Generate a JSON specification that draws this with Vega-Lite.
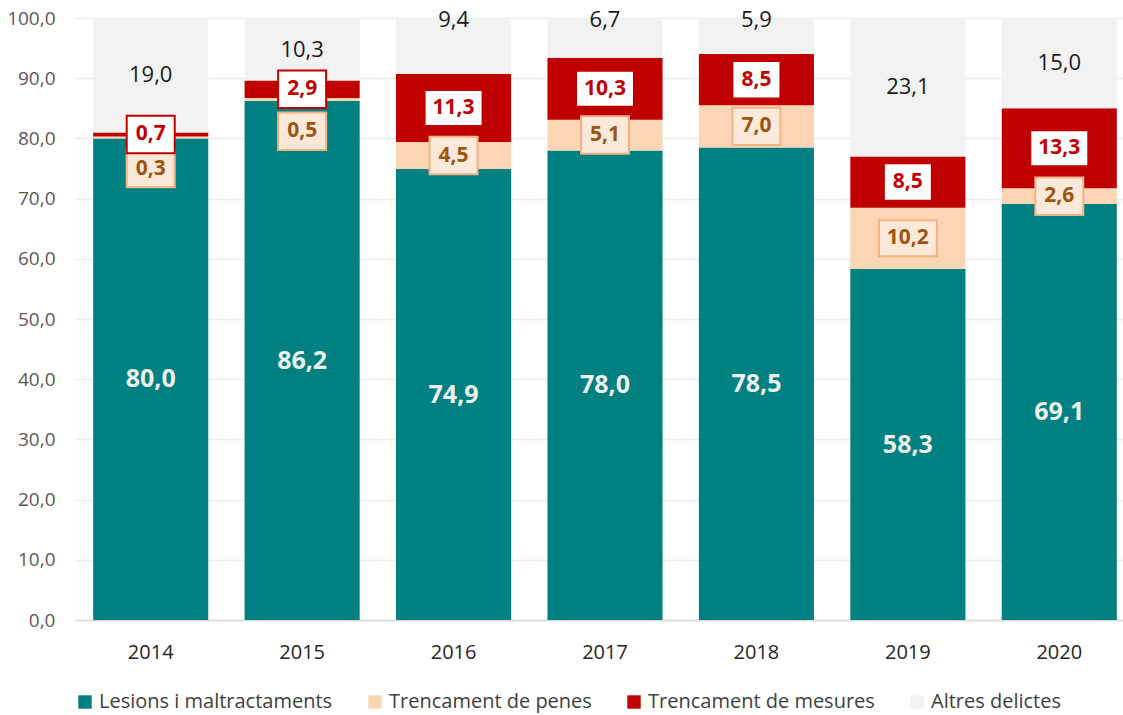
{
  "$schema": "https://vega.github.io/schema/vega-lite/v6.json",
  "width": 1060,
  "height": 602,
  "autosize": "none",
  "padding": {"left": 75, "top": 18, "right": 0, "bottom": 95},
  "background": "white",
  "config": {
    "font": "Open Sans",
    "view": {"stroke": null},
    "axis": {"ticks": false, "labelFont": "Open Sans"},
    "legend": {"labelFont": "Open Sans"}
  },
  "data": {
    "values": [
      {"year": "2014", "cat": "Lesions i maltractaments", "v": 80.0},
      {"year": "2014", "cat": "Trencament de penes", "v": 0.3},
      {"year": "2014", "cat": "Trencament de mesures", "v": 0.7},
      {"year": "2014", "cat": "Altres delictes", "v": 19.0},
      {"year": "2015", "cat": "Lesions i maltractaments", "v": 86.2},
      {"year": "2015", "cat": "Trencament de penes", "v": 0.5},
      {"year": "2015", "cat": "Trencament de mesures", "v": 2.9},
      {"year": "2015", "cat": "Altres delictes", "v": 10.3},
      {"year": "2016", "cat": "Lesions i maltractaments", "v": 74.9},
      {"year": "2016", "cat": "Trencament de penes", "v": 4.5},
      {"year": "2016", "cat": "Trencament de mesures", "v": 11.3},
      {"year": "2016", "cat": "Altres delictes", "v": 9.4},
      {"year": "2017", "cat": "Lesions i maltractaments", "v": 78.0},
      {"year": "2017", "cat": "Trencament de penes", "v": 5.1},
      {"year": "2017", "cat": "Trencament de mesures", "v": 10.3},
      {"year": "2017", "cat": "Altres delictes", "v": 6.7},
      {"year": "2018", "cat": "Lesions i maltractaments", "v": 78.5},
      {"year": "2018", "cat": "Trencament de penes", "v": 7.0},
      {"year": "2018", "cat": "Trencament de mesures", "v": 8.5},
      {"year": "2018", "cat": "Altres delictes", "v": 5.9},
      {"year": "2019", "cat": "Lesions i maltractaments", "v": 58.3},
      {"year": "2019", "cat": "Trencament de penes", "v": 10.2},
      {"year": "2019", "cat": "Trencament de mesures", "v": 8.5},
      {"year": "2019", "cat": "Altres delictes", "v": 23.1},
      {"year": "2020", "cat": "Lesions i maltractaments", "v": 69.1},
      {"year": "2020", "cat": "Trencament de penes", "v": 2.6},
      {"year": "2020", "cat": "Trencament de mesures", "v": 13.3},
      {"year": "2020", "cat": "Altres delictes", "v": 15.0}
    ]
  },
  "transform": [
    {"calculate": "indexof(['Lesions i maltractaments','Trencament de penes','Trencament de mesures','Altres delictes'], datum.cat)", "as": "k"},
    {"stack": "v", "groupby": ["year"], "sort": [{"field": "k"}], "as": ["v0", "v1"]},
    {"calculate": "replace(format(datum.v, '.1f'), '.', ',')", "as": "lab"},
    {"calculate": "datum.k == 1 && datum.v < 1 ? datum.v0 - 5 : (datum.k == 3 && datum.v < 10 ? 99.6 : (datum.v0 + datum.v1) / 2)", "as": "ly"},
    {"calculate": "length(datum.lab) > 3 ? 'M-1,-0.62H1V0.62H-1Z' : 'M-1,-0.78H1V0.78H-1Z'", "as": "boxShape"},
    {"calculate": "length(datum.lab) > 3 ? 3364 : 2304", "as": "boxSize"}
  ],
  "encoding": {
    "x": {
      "field": "year", "type": "nominal",
      "scale": {"paddingInner": 0.24, "paddingOuter": 0.12},
      "axis": {"title": null, "labelAngle": 0, "labelFontSize": 20, "labelColor": "#262626", "labelPadding": 22, "domainColor": "#d9d9d9", "domainWidth": 1.5, "grid": false}
    }
  },
  "layer": [
    {
      "mark": {"type": "bar"},
      "encoding": {
        "y": {
          "field": "v1", "type": "quantitative",
          "scale": {"domain": [0, 100], "nice": false},
          "axis": {"title": null, "values": [0,10,20,30,40,50,60,70,80,90,100], "labelOverlap": false, "labelExpr": "replace(format(datum.value, '.1f'), '.', ',')", "labelFontSize": 19, "labelColor": "#595959", "labelPadding": 20, "domain": false, "grid": true, "gridColor": "#ececec", "gridWidth": 1.5}
        },
        "y2": {"field": "v0"},
        "color": {
          "field": "cat", "type": "nominal",
          "scale": {"domain": ["Lesions i maltractaments", "Trencament de penes", "Trencament de mesures", "Altres delictes"], "range": ["#008080", "#fcd5b4", "#c00000", "#f2f2f2"]},
          "legend": {"title": null, "orient": "bottom", "direction": "horizontal", "symbolType": "square", "symbolSize": 180, "symbolStrokeWidth": 0, "labelFontSize": 20, "labelLimit": 0, "labelColor": "#404040", "columnPadding": 32, "labelOffset": 4, "offset": 30}
        },
        "order": {"field": "k"}
      }
    },
    {
      "transform": [{"filter": "datum.k == 1"}],
      "mark": {"type": "point", "filled": true, "fill": "#fde9d9", "stroke": "#f4b183", "strokeWidth": 2, "opacity": 1},
      "encoding": {
        "y": {"field": "ly", "type": "quantitative"},
        "shape": {"field": "boxShape", "type": "nominal", "scale": null, "legend": null},
        "size": {"field": "boxSize", "type": "quantitative", "scale": null, "legend": null}
      }
    },
    {
      "transform": [{"filter": "datum.k == 1"}],
      "mark": {"type": "text", "fontSize": 21, "fontWeight": "bold", "color": "#9c5511", "baseline": "middle", "align": "center"},
      "encoding": {"y": {"field": "ly", "type": "quantitative"}, "text": {"field": "lab"}}
    },
    {
      "transform": [{"filter": "datum.k == 2"}],
      "mark": {"type": "point", "filled": true, "fill": "#ffffff", "stroke": "#c00000", "strokeWidth": 2, "opacity": 1},
      "encoding": {
        "y": {"field": "ly", "type": "quantitative"},
        "shape": {"field": "boxShape", "type": "nominal", "scale": null, "legend": null},
        "size": {"field": "boxSize", "type": "quantitative", "scale": null, "legend": null}
      }
    },
    {
      "transform": [{"filter": "datum.k == 2"}],
      "mark": {"type": "text", "fontSize": 21, "fontWeight": "bold", "color": "#c00000", "baseline": "middle", "align": "center"},
      "encoding": {"y": {"field": "ly", "type": "quantitative"}, "text": {"field": "lab"}}
    },
    {
      "transform": [{"filter": "datum.k == 0"}],
      "mark": {"type": "text", "fontSize": 25, "fontWeight": "bold", "color": "#eef2ee", "baseline": "middle", "align": "center"},
      "encoding": {"y": {"field": "ly", "type": "quantitative"}, "text": {"field": "lab"}}
    },
    {
      "transform": [{"filter": "datum.k == 3"}],
      "mark": {"type": "text", "fontSize": 22, "color": "#1a1a1a", "baseline": "middle", "align": "center"},
      "encoding": {"y": {"field": "ly", "type": "quantitative"}, "text": {"field": "lab"}}
    }
  ]
}
